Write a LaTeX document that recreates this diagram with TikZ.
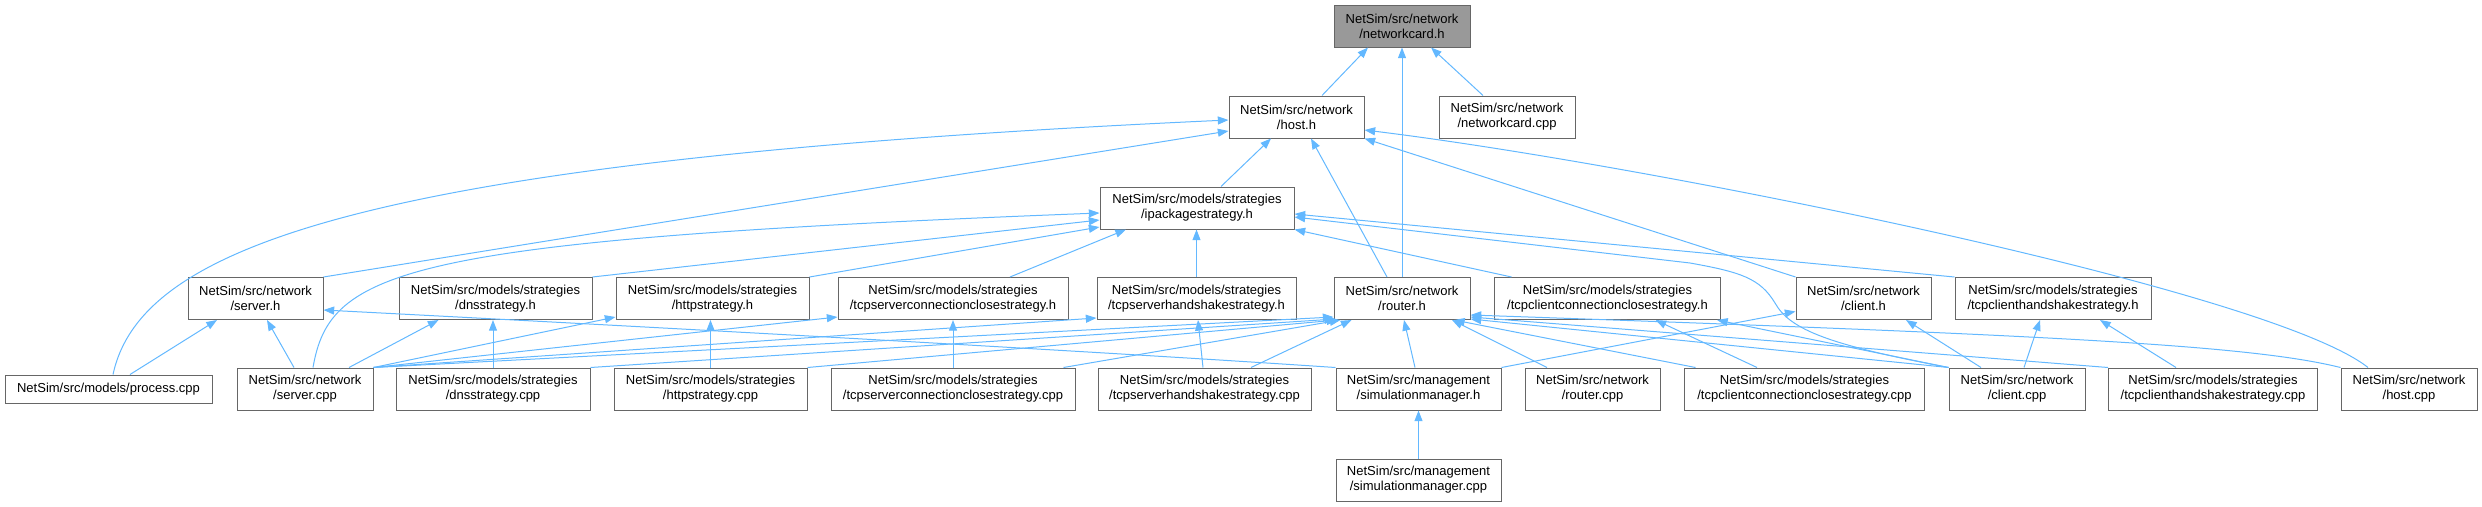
\documentclass[tikz,border=0pt]{standalone}
\usepackage{fontspec}
\setmainfont{Liberation Sans}
\usetikzlibrary{arrows.meta, calc}
\definecolor{edgeblue}{HTML}{63B8FF}
\definecolor{boxline}{HTML}{666666}
\definecolor{rootfill}{HTML}{999999}

\tikzset{
  file/.style={draw=boxline, fill=white, line width=0.75pt, align=center,
    inner sep=0pt, minimum height=31.5pt, font=\fontsize{9.75}{11.25}\selectfont},
  rootfile/.style={file, fill=rootfill},
  dep/.style={draw=edgeblue, line width=0.75pt, -{Triangle[length=8pt,width=6pt]}}
}

\begin{document}
\begin{tikzpicture}[x=0.75pt, y=-0.75pt]
  \useasboundingbox (0,0) rectangle (2482,507);

  % files
  \node[rootfile, minimum width=102pt] (nch) at (1402,26) {NetSim/src/network\\/networkcard.h};
  \node[file, minimum width=101.25pt] (hosth) at (1296.5,117) {NetSim/src/network\\/host.h};
  \node[file, minimum width=102pt] (nccpp) at (1507,117) {NetSim/src/network\\/networkcard.cpp};
  \node[file, minimum width=145.5pt] (ipack) at (1197,208) {NetSim/src/models/strategies\\/ipackagestrategy.h};

  \node[file, minimum width=101.25pt] (serverh) at (255.5,298.5) {NetSim/src/network\\/server.h};
  \node[file, minimum width=144.75pt] (dnsh) at (495.5,298.5) {NetSim/src/models/strategies\\/dnsstrategy.h};
  \node[file, minimum width=144.75pt] (httph) at (712.5,298.5) {NetSim/src/models/strategies\\/httpstrategy.h};
  \node[file, minimum width=172.5pt] (tscch) at (953,298.5) {NetSim/src/models/strategies\\/tcpserverconnectionclosestrategy.h};
  \node[file, minimum width=149.25pt] (tshsh) at (1196.5,298.5) {NetSim/src/models/strategies\\/tcpserverhandshakestrategy.h};
  \node[file, minimum width=102pt] (routerh) at (1402,298.5) {NetSim/src/network\\/router.h};
  \node[file, minimum width=169.5pt] (tccch) at (1607.5,298.5) {NetSim/src/models/strategies\\/tcpclientconnectionclosestrategy.h};
  \node[file, minimum width=101.25pt] (clienth) at (1863.5,298.5) {NetSim/src/network\\/client.h};
  \node[file, minimum width=147pt] (tchsh) at (2053,298.5) {NetSim/src/models/strategies\\/tcpclienthandshakestrategy.h};

  \node[file, minimum width=155.25pt, minimum height=21pt] (processcpp) at (108.5,389) {NetSim/src/models/process.cpp};
  \node[file, minimum width=102pt] (servercpp) at (305,389) {NetSim/src/network\\/server.cpp};
  \node[file, minimum width=145.5pt] (dnscpp) at (493,389) {NetSim/src/models/strategies\\/dnsstrategy.cpp};
  \node[file, minimum width=144.75pt] (httpcpp) at (710.5,389) {NetSim/src/models/strategies\\/httpstrategy.cpp};
  \node[file, minimum width=183pt] (tscccpp) at (953,389) {NetSim/src/models/strategies\\/tcpserverconnectionclosestrategy.cpp};
  \node[file, minimum width=159.75pt] (tshscpp) at (1204.5,389) {NetSim/src/models/strategies\\/tcpserverhandshakestrategy.cpp};
  \node[file, minimum width=123.75pt] (simmgrh) at (1418.5,389) {NetSim/src/management\\/simulationmanager.h};
  \node[file, minimum width=101.25pt] (routercpp) at (1592.5,389) {NetSim/src/network\\/router.cpp};
  \node[file, minimum width=180pt] (tccccpp) at (1804.5,389) {NetSim/src/models/strategies\\/tcpclientconnectionclosestrategy.cpp};
  \node[file, minimum width=102pt] (clientcpp) at (2017,389) {NetSim/src/network\\/client.cpp};
  \node[file, minimum width=156.75pt] (tchscpp) at (2213,389) {NetSim/src/models/strategies\\/tcpclienthandshakestrategy.cpp};
  \node[file, minimum width=102pt] (hostcpp) at (2409,389) {NetSim/src/network\\/host.cpp};

  \node[file, minimum width=123.75pt] (simmgrcpp) at (1418.5,480) {NetSim/src/management\\/simulationmanager.cpp};

  % includes of networkcard.h and host.h
  \draw[dep] ($(hosth.north)+(25.5,0)$) -- ($(nch.south)+(-34,0)$);
  \draw[dep] ($(nccpp.north)+(-24,0)$) -- ($(nch.south)+(29,0)$);
  \draw[dep] (routerh.north) -- (nch.south);
  \draw[dep] ($(ipack.north)+(24,0)$) -- ($(hosth.south)+(-25.5,0)$);
  \draw[dep] (serverh.north east) -- ($(hosth.west)+(0,14)$);
  \draw[dep] ($(processcpp.north)+(4.5,0)$) .. controls (140,250) and (350,160) .. ($(hosth.west)+(0,3)$);
  \draw[dep] ($(routerh.north)+(-15,0)$) -- ($(hosth.south)+(14.5,0)$);
  \draw[dep] (clienth.north west) -- (hosth.south east);
  \draw[dep] ($(hostcpp.north)+(-41,0)$) .. controls (2270,290) and (1650,165) .. ($(hosth.east)+(0,13)$);

  % includes of ipackagestrategy.h
  \draw[dep] ($(servercpp.north)+(8,0)$) .. controls (330,270) and (400,240) .. ($(ipack.west)+(0,5)$);
  \draw[dep] (dnsh.north east) -- ($(ipack.west)+(0,12)$);
  \draw[dep] (httph.north east) -- ($(ipack.west)+(0,19)$);
  \draw[dep] ($(tscch.north)+(57,0)$) -- ($(ipack.south)+(-71,0)$);
  \draw[dep] (tshsh.north) -- (tshsh.north |- ipack.south);
  \draw[dep] ($(tccch.north west)+(17.5,0)$) -- (ipack.south east);
  \draw[dep] (tchsh.north west) -- ($(ipack.east)+(0,6)$);
  \draw[dep] (clientcpp.north west) .. controls (1830,345) and (1790,330) .. (1775,303)
    .. controls (1760,278) and (1740,272) .. (1690,263) -- ($(ipack.east)+(0,9)$);

  % second row
  \draw[dep] ($(processcpp.north)+(21.5,0)$) -- ($(serverh.south)+(-38.5,0)$);
  \draw[dep] ($(servercpp.north)+(-11,0)$) -- ($(serverh.south)+(11.5,0)$);
  \draw[dep] (simmgrh.north west) .. controls (1000,345) and (420,315) .. ($(serverh.east)+(0,11.5)$);
  \draw[dep] ($(servercpp.north)+(44,0)$) -- ($(dnsh.south west)+(40,0)$);
  \draw[dep] (dnscpp.north) -- (dnscpp.north |- dnsh.south);
  \draw[dep] (servercpp.north east) -- ($(httph.south west)+(0,-3)$);
  \draw[dep] (httpcpp.north) -- (httpcpp.north |- httph.south);
  \draw[dep] (servercpp.north east) -- ($(tscch.south west)+(0,-3)$);
  \draw[dep] (tscccpp.north) -- (tscch.south);
  \draw[dep] (servercpp.north east) -- ($(tshsh.south west)+(0,-2)$);
  \draw[dep] ($(tshscpp.north)+(-1.5,0)$) -- ($(tshsh.south)+(1.5,0)$);

  % includes of router.h
  \draw[dep] (servercpp.north east) -- ($(routerh.south west)+(0,-3)$);
  \draw[dep] (dnscpp.north east) -- ($(routerh.south west)+(2,-1)$);
  \draw[dep] (httpcpp.north east) -- ($(routerh.south west)+(4,0)$);
  \draw[dep] ($(tscccpp.north east)+(-12,0)$) -- ($(routerh.south west)+(7,0)$);
  \draw[dep] ($(tshscpp.north)+(46.5,0)$) -- ($(routerh.south west)+(18,0)$);
  \draw[dep] ($(simmgrh.north)+(-3.5,0)$) -- ($(routerh.south)+(2,0)$);
  \draw[dep] ($(routercpp.north)+(-45.5,0)$) -- ($(routerh.south)+(50,0)$);
  \draw[dep] ($(tccccpp.north west)+(11.5,0)$) -- ($(routerh.south)+(52,0)$);
  \draw[dep] (clientcpp.north west) -- ($(routerh.south east)+(0,-1)$);
  \draw[dep] (tchscpp.north west) -- ($(routerh.south east)+(0,-3)$);
  \draw[dep] (hostcpp.north west) .. controls (2250,345) and (2050,335) .. ($(routerh.south east)+(0,-5)$);

  % client side
  \draw[dep] (clientcpp.north west) -- ($(tccch.south east)+(-4,0)$);
  \draw[dep] ($(tccccpp.north)+(-47.5,0)$) -- ($(tccch.south)+(48,0)$);
  \draw[dep] (simmgrh.north east) -- ($(clienth.west)+(0,13)$);
  \draw[dep] ($(clientcpp.north)+(-36,0)$) -- ($(clienth.south)+(42.5,0)$);
  \draw[dep] ($(clientcpp.north)+(7,0)$) -- ($(tchsh.south)+(-13,0)$);
  \draw[dep] ($(tchscpp.north)+(-37,0)$) -- ($(tchsh.south)+(47,0)$);

  \draw[dep] (simmgrcpp.north) -- (simmgrh.south);
\end{tikzpicture}
\end{document}
